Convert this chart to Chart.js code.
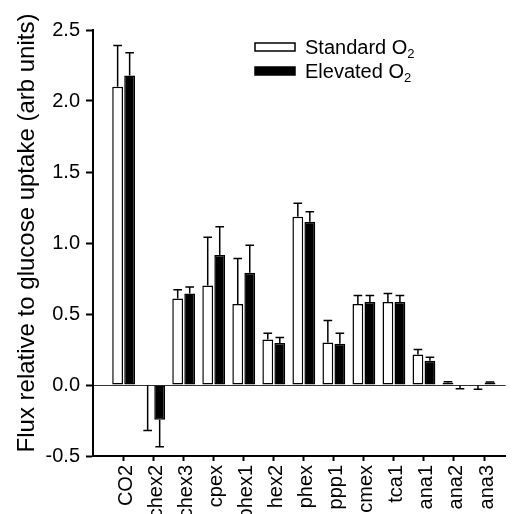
<!DOCTYPE html>
<html>
<head>
<meta charset="utf-8">
<script src="https://cdn.jsdelivr.net/npm/chart.js@4/dist/chart.umd.min.js"></script>
<style>
    html, body { margin: 0; padding: 0; background: #fff; overflow: hidden; }
    #wrap { width: 512px; height: 514px; }
</style>
</head>
<body>
<div id="wrap"><canvas id="fluxChart"></canvas></div>
<script>
// Flux values
const categories = ['CO2', 'chex2', 'chex3', 'cpex', 'phex1', 'hex2', 'phex', 'ppp1', 'cmex', 'tca1', 'ana1', 'ana2', 'ana3'];
const standardValues = [2.10, -0.005, 0.61, 0.70, 0.57, 0.32, 1.185, 0.30, 0.57, 0.585, 0.215, 0.015, -0.004];
const standardErrors = [0.29, 0.315, 0.06, 0.34, 0.32, 0.045, 0.095, 0.155, 0.06, 0.06, 0.035, 0.008, 0.026];
const elevatedValues = [2.18, -0.245, 0.645, 0.915, 0.79, 0.295, 1.15, 0.29, 0.585, 0.585, 0.17, -0.004, 0.018];
const elevatedErrors = [0.16, 0.19, 0.045, 0.20, 0.195, 0.04, 0.07, 0.075, 0.045, 0.045, 0.025, 0.022, 0.004];
const seriesNames = ['Standard O\u2082', 'Elevated O\u2082'];
const yTicks = [-0.5, 0.0, 0.5, 1.0, 1.5, 2.0, 2.5];
const yTitle = 'Flux relative to glucose uptake (arb units)';

const FONT = "'Liberation Sans', Arial, sans-serif";

// one-sided error bars, drawn away from zero
const errorBars = {
    id: 'errorBars',
    afterDatasetsDraw(chart) {
        const ctx = chart.ctx;
        const y = chart.scales.y;
        ctx.save();
        ctx.strokeStyle = '#000';
        ctx.lineWidth = 1.5;
        chart.data.datasets.forEach(function (ds, di) {
            const meta = chart.getDatasetMeta(di);
            meta.data.forEach(function (bar, i) {
                const v = ds.data[i].y;
                const e = ds.errors[i];
                const end = y.getPixelForValue(v >= 0 ? v + e : v - e);
                const start = y.getPixelForValue(v);
                const cap = bar.width * 0.4;
                ctx.beginPath();
                ctx.moveTo(bar.x, start);
                ctx.lineTo(bar.x, end);
                ctx.moveTo(bar.x - cap, end);
                ctx.lineTo(bar.x + cap, end);
                ctx.stroke();
            });
        });
        ctx.restore();
    }
};

// legend with subscript, plus the y axis title
const labelsPlugin = {
    id: 'labelsPlugin',
    afterDraw(chart) {
        const ctx = chart.ctx;
        const area = chart.chartArea;
        const bx = area.left + 162;
        ctx.save();
        chart.data.datasets.forEach(function (ds, i) {
            const by = area.top + 13 + i * 24;
            ctx.fillStyle = ds.backgroundColor;
            ctx.fillRect(bx, by, 40, 8);
            ctx.strokeStyle = '#000';
            ctx.lineWidth = 1.5;
            ctx.strokeRect(bx, by, 40, 8);
            const parts = ds.label.split('\u2082');
            ctx.fillStyle = '#000';
            ctx.textBaseline = 'middle';
            ctx.textAlign = 'left';
            ctx.font = '20px ' + FONT;
            ctx.fillText(parts[0], bx + 50, by + 5);
            const w = ctx.measureText(parts[0]).width;
            ctx.font = '13px ' + FONT;
            ctx.fillText('2', bx + 50 + w, by + 11);
        });

        // y title, a bit above the axis centre like the original
        ctx.translate(34, (area.top + area.bottom) / 2 - 10);
        ctx.rotate(-Math.PI / 2);
        ctx.font = '24px ' + FONT;
        ctx.textAlign = 'center';
        ctx.textBaseline = 'alphabetic';
        ctx.fillStyle = '#000';
        ctx.fillText(yTitle, 0, 0);
        ctx.restore();
    }
};

const ctx = document.getElementById('fluxChart').getContext('2d');

const fluxChart = new Chart(ctx, {
    type: 'bar',
    data: {
        datasets: [{
            label: seriesNames[0],
            data: standardValues.map(function (v, i) { return { x: i, y: v }; }),
            errors: standardErrors,
            backgroundColor: '#ffffff',
            borderColor: '#000000',
            borderWidth: 1.5,
            borderSkipped: false
        }, {
            label: seriesNames[1],
            data: elevatedValues.map(function (v, i) { return { x: i, y: v }; }),
            errors: elevatedErrors,
            backgroundColor: '#000000',
            borderColor: '#000000',
            borderWidth: 1.5,
            borderSkipped: false
        }]
    },
    options: {
        responsive: true,
        maintainAspectRatio: false,
        animation: false,
        layout: { padding: { top: 30, left: 0, right: 0, bottom: 0 } },
        datasets: { bar: { categoryPercentage: 0.8, barPercentage: 0.9 } },
        plugins: {
            legend: { display: false },
            tooltip: { enabled: false }
        },
        scales: {
            x: {
                type: 'linear',
                offset: false,
                min: -1.02,
                max: 12.72,
                afterBuildTicks: function (scale) {
                    scale.ticks = categories.map(function (c, i) { return { value: i }; });
                },
                afterFit: function (scale) { scale.height = 58; },
                ticks: {
                    autoSkip: false,
                    minRotation: 90,
                    maxRotation: 90,
                    padding: 4,
                    labelOffset: 3,
                    color: '#000',
                    font: { family: FONT, size: 20 },
                    callback: function (value) { return categories[value]; }
                },
                grid: {
                    offset: false,
                    drawOnChartArea: false,
                    color: 'rgba(0,0,0,0)',
                    tickColor: '#000',
                    tickWidth: 2,
                    tickLength: 5
                },
                border: { display: true, color: '#000', width: 2 }
            },
            y: {
                min: -0.5,
                max: 2.5,
                afterBuildTicks: function (scale) {
                    scale.ticks = yTicks.map(function (v) { return { value: v }; });
                },
                afterFit: function (scale) { scale.width = 93; },
                ticks: {
                    padding: 6,
                    color: '#000',
                    font: { family: FONT, size: 20 },
                    callback: function (value) { return value.toFixed(1); }
                },
                grid: {
                    color: function (c) { return c.tick && c.tick.value === 0 ? '#333' : 'rgba(0,0,0,0)'; },
                    lineWidth: 1,
                    tickColor: '#000',
                    tickWidth: 2,
                    tickLength: 7
                },
                border: { display: true, color: '#000', width: 2 }
            }
        }
    },
    plugins: [errorBars, labelsPlugin]
});
</script>
</body>
</html>
